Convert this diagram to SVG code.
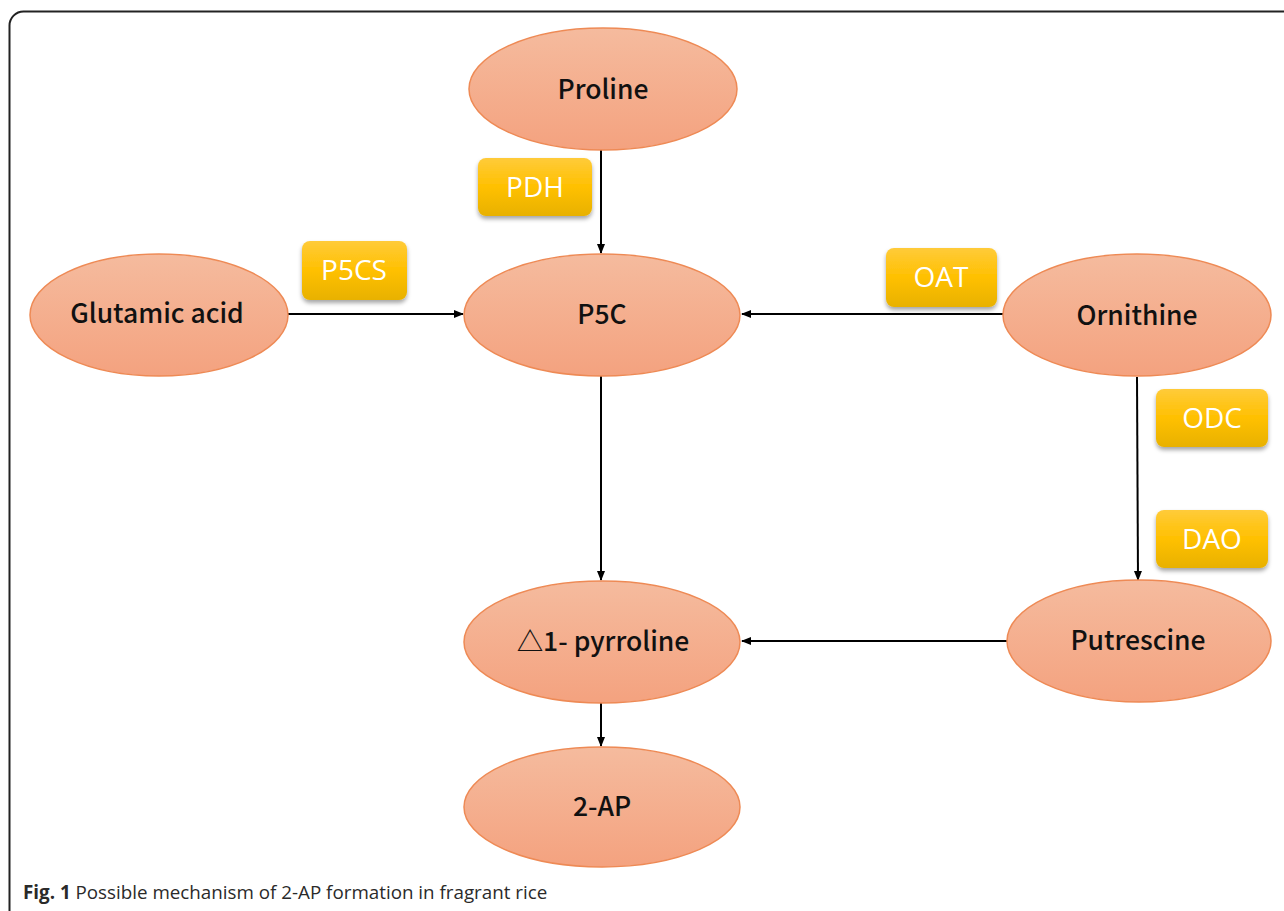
<svg xmlns="http://www.w3.org/2000/svg" width="1284" height="911" viewBox="0 0 1284 911">
<defs>
<linearGradient id="gEll" x1="0" y1="0" x2="0" y2="1">
<stop offset="0" stop-color="#F5BB9E"/>
<stop offset="1" stop-color="#F4A27F"/>
</linearGradient>
<linearGradient id="gBox" x1="0" y1="0" x2="0" y2="1">
<stop offset="0" stop-color="#FFCB3A"/>
<stop offset="0.5" stop-color="#FFC000"/>
<stop offset="1" stop-color="#E8B100"/>
</linearGradient>
<filter id="sh" x="-20%" y="-20%" width="140%" height="150%">
<feDropShadow dx="0" dy="3" stdDeviation="2" flood-color="#000" flood-opacity="0.35"/>
</filter>
<marker id="arr" markerWidth="10" markerHeight="10" refX="9" refY="5" orient="auto" markerUnits="userSpaceOnUse">
<path d="M0,1 L10,5 L0,9 Z" fill="#000"/>
</marker>
<style>
.ell{fill:url(#gEll);stroke:#EE8A55;stroke-width:1.5}
.box{fill:url(#gBox);filter:url(#sh)}
.nt{font-family:"Noto Sans CJK SC","Noto Sans",sans-serif;font-size:26.5px;font-weight:500;fill:#111;text-anchor:middle;dominant-baseline:central}
.bt{font-family:"Open Sans","Noto Sans",sans-serif;font-size:28px;fill:#fff;text-anchor:middle;dominant-baseline:central}
.ln{stroke:#000;stroke-width:2;fill:none;marker-end:url(#arr)}
.cap{font-family:"Open Sans","Noto Sans",sans-serif;font-size:18.8px;fill:#2a2a2a}
</style>
</defs>
<rect x="9.5" y="11.5" width="1300" height="930" rx="14" fill="#fff" stroke="#222" stroke-width="2"/>
<g id="connectors">
<line class="ln" x1="601" y1="150" x2="601" y2="253"/>
<line class="ln" x1="288" y1="314" x2="463" y2="314"/>
<line class="ln" x1="1003" y1="314" x2="742" y2="314"/>
<line class="ln" x1="601" y1="376" x2="601" y2="580"/>
<line class="ln" x1="1137" y1="377" x2="1138" y2="580"/>
<line class="ln" x1="1007" y1="641" x2="742" y2="641"/>
<line class="ln" x1="601" y1="703" x2="601" y2="746"/>
</g>
<g id="proline"><ellipse class="ell" cx="603" cy="89" rx="134" ry="61"/><text class="nt" x="603" y="87">Proline</text></g>
<g id="p5c"><ellipse class="ell" cx="602" cy="315" rx="138" ry="61"/><text class="nt" x="602" y="312">P5C</text></g>
<g id="glutamic"><ellipse class="ell" cx="159" cy="315" rx="129" ry="61"/><text class="nt" x="157" y="311">Glutamic acid</text></g>
<g id="ornithine"><ellipse class="ell" cx="1137" cy="315" rx="134" ry="61"/><text class="nt" x="1137" y="313">Ornithine</text></g>
<g id="pyrroline"><ellipse class="ell" cx="602" cy="642" rx="138" ry="61"/><text class="nt" x="603" y="639">△1- pyrroline</text></g>
<g id="putrescine"><ellipse class="ell" cx="1139" cy="641" rx="132" ry="61"/><text class="nt" x="1138" y="638">Putrescine</text></g>
<g id="ap2"><ellipse class="ell" cx="602" cy="807" rx="138" ry="60"/><text class="nt" x="602" y="804">2-AP</text></g>
<g id="pdh"><rect class="box" x="478" y="158" width="114" height="58" rx="8"/><text class="bt" x="535" y="186">PDH</text></g>
<g id="p5cs"><rect class="box" x="302" y="241" width="105" height="59" rx="8"/><text class="bt" x="354" y="269">P5CS</text></g>
<g id="oat"><rect class="box" x="886" y="248" width="111" height="59" rx="8"/><text class="bt" x="941" y="276">OAT</text></g>
<g id="odc"><rect class="box" x="1156" y="389" width="112" height="58" rx="8"/><text class="bt" x="1212" y="417">ODC</text></g>
<g id="dao"><rect class="box" x="1156" y="510" width="112" height="58" rx="8"/><text class="bt" x="1212" y="538">DAO</text></g>
<text class="cap" x="23" y="899"><tspan font-weight="bold">Fig. 1</tspan> Possible mechanism of 2-AP formation in fragrant rice</text>
</svg>
